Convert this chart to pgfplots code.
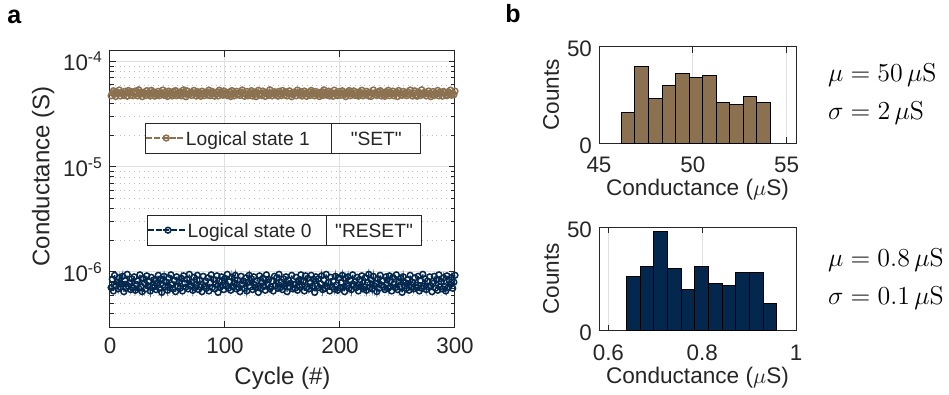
\documentclass[border=0pt]{standalone}
\usepackage[no-math]{fontspec}
\setmainfont{Liberation Sans}[Ligatures=TeXOff]
\usepackage{graphicx}
\usepackage{pgfplots}
\usepackage{pgfplotstable}
\pgfplotsset{compat=1.18}
\definecolor{setc}{RGB}{140,113,80}
\definecolor{resetc}{RGB}{3,39,77}
\definecolor{axc}{RGB}{38,38,38}

\pgfplotstableread[row sep=\\]{
g\\
47.3\\ 50.1\\ 52.8\\ 48.9\\ 46.5\\ 51.4\\ 49.6\\ 53.7\\ 47.1\\ 50.8\\ 49.3\\ 47.6\\ 52.2\\ 50.5\\ 46.8\\ 53.1\\ 49.9\\ 48.1\\ 51.7\\ 47.4\\
50.2\\ 52.5\\ 49.4\\ 47.2\\ 53.9\\ 48.6\\ 50.9\\ 46.4\\ 51.1\\ 49.7\\ 47.5\\ 52.9\\ 50.4\\ 48.8\\ 47.0\\ 53.3\\ 49.5\\ 51.6\\ 46.9\\ 50.0\\
48.4\\ 52.1\\ 47.3\\ 50.7\\ 49.2\\ 53.6\\ 47.8\\ 51.3\\ 49.8\\ 46.6\\ 52.4\\ 50.3\\ 48.5\\ 47.1\\ 51.9\\ 49.0\\ 53.0\\ 47.4\\ 50.6\\ 48.2\\
51.5\\ 47.2\\ 49.6\\ 53.8\\ 50.1\\ 46.3\\ 52.7\\ 48.7\\ 49.4\\ 51.0\\ 47.6\\ 50.5\\ 53.2\\ 49.9\\ 47.0\\ 51.8\\ 48.3\\ 50.2\\ 46.7\\ 52.3\\
49.3\\ 47.5\\ 51.2\\ 50.8\\ 48.0\\ 53.5\\ 47.3\\ 49.7\\ 52.0\\ 50.4\\ 46.9\\ 48.9\\ 51.4\\ 47.1\\ 53.4\\ 49.5\\ 50.9\\ 47.8\\ 52.6\\ 49.1\\
50.6\\ 47.4\\ 48.6\\ 51.6\\ 46.5\\ 53.0\\ 49.9\\ 47.2\\ 50.3\\ 52.2\\ 48.4\\ 49.6\\ 47.6\\ 51.1\\ 53.7\\ 50.0\\ 46.8\\ 49.2\\ 51.9\\ 47.3\\
48.8\\ 50.7\\ 52.9\\ 47.0\\ 49.4\\ 51.3\\ 46.4\\ 50.1\\ 53.3\\ 48.2\\ 49.8\\ 47.5\\ 52.4\\ 50.5\\ 46.6\\ 51.0\\ 49.0\\ 47.7\\ 53.9\\ 50.2\\
47.2\\ 49.5\\ 51.7\\ 48.5\\ 50.8\\ 46.9\\ 52.1\\ 49.3\\ 47.4\\ 53.1\\ 50.4\\ 48.1\\ 51.5\\ 47.1\\ 49.7\\ 52.7\\ 50.0\\ 46.3\\ 48.7\\ 51.2\\
49.9\\ 47.3\\ 53.6\\ 50.6\\ 48.3\\ 51.8\\ 47.0\\ 49.1\\ 52.5\\ 50.3\\ 46.7\\ 48.9\\ 51.4\\ 47.6\\ 53.2\\ 49.6\\ 50.9\\ 47.2\\ 52.0\\ 48.6\\
50.1\\ 46.5\\ 49.4\\ 51.6\\ 47.5\\ 53.8\\ 50.7\\ 48.0\\ 49.8\\ 52.3\\ 47.1\\ 51.1\\ 49.2\\ 46.8\\ 53.5\\ 50.4\\ 48.4\\ 47.4\\ 51.9\\ 49.7\\
47.8\\ 52.8\\ 50.2\\ 48.8\\ 46.4\\ 51.3\\ 49.5\\ 53.0\\ 47.3\\ 50.8\\ 49.0\\ 52.6\\ 47.6\\ 50.5\\ 48.2\\ 46.9\\ 51.7\\ 49.3\\ 53.4\\ 47.2\\
50.0\\ 48.5\\ 52.2\\ 49.9\\ 47.0\\ 51.0\\ 46.6\\ 49.6\\ 53.7\\ 50.3\\ 48.7\\ 47.5\\ 51.5\\ 49.1\\ 52.9\\ 47.1\\ 50.6\\ 48.1\\ 46.7\\ 51.8\\
49.4\\ 53.3\\ 47.4\\ 50.9\\ 48.9\\ 52.4\\ 47.2\\ 49.8\\ 51.2\\ 46.5\\ 53.1\\ 50.1\\ 48.3\\ 47.7\\ 52.1\\ 49.2\\ 50.7\\ 47.3\\ 51.6\\ 48.6\\
53.6\\ 49.7\\ 47.0\\ 50.4\\ 52.7\\ 48.0\\ 46.8\\ 51.4\\ 49.3\\ 47.5\\ 53.9\\ 50.2\\ 48.8\\ 51.1\\ 47.1\\ 49.5\\ 52.5\\ 50.0\\ 46.4\\ 48.4\\
51.9\\ 47.6\\ 50.5\\ 49.0\\ 53.2\\ 47.2\\ 51.3\\ 49.9\\ 46.9\\ 52.0\\ 50.8\\ 48.2\\ 47.4\\ 51.7\\ 49.6\\ 53.5\\ 47.8\\ 50.3\\ 48.5\\ 52.3\\
}\setdata

\pgfplotstableread[row sep=\\]{
g\\
0.71\\ 0.85\\ 0.66\\ 0.93\\ 0.74\\ 0.80\\ 0.69\\ 0.88\\ 0.72\\ 0.77\\ 0.91\\ 0.65\\ 0.83\\ 0.70\\ 0.95\\ 0.73\\ 0.79\\ 0.68\\ 0.86\\ 0.71\\
0.90\\ 0.67\\ 0.76\\ 0.82\\ 0.70\\ 0.94\\ 0.72\\ 0.65\\ 0.87\\ 0.79\\ 0.69\\ 0.92\\ 0.74\\ 0.81\\ 0.66\\ 0.89\\ 0.71\\ 0.84\\ 0.73\\ 0.68\\
0.78\\ 0.93\\ 0.70\\ 0.86\\ 0.64\\ 0.75\\ 0.91\\ 0.72\\ 0.80\\ 0.67\\ 0.88\\ 0.71\\ 0.94\\ 0.76\\ 0.69\\ 0.83\\ 0.65\\ 0.90\\ 0.73\\ 0.81\\
0.70\\ 0.87\\ 0.66\\ 0.92\\ 0.78\\ 0.72\\ 0.85\\ 0.69\\ 0.95\\ 0.74\\ 0.80\\ 0.67\\ 0.89\\ 0.71\\ 0.76\\ 0.93\\ 0.68\\ 0.84\\ 0.72\\ 0.65\\
0.91\\ 0.73\\ 0.82\\ 0.70\\ 0.88\\ 0.66\\ 0.79\\ 0.94\\ 0.71\\ 0.85\\ 0.69\\ 0.77\\ 0.92\\ 0.64\\ 0.83\\ 0.72\\ 0.90\\ 0.75\\ 0.68\\ 0.87\\
0.74\\ 0.95\\ 0.70\\ 0.81\\ 0.67\\ 0.89\\ 0.72\\ 0.78\\ 0.93\\ 0.69\\ 0.84\\ 0.71\\ 0.65\\ 0.91\\ 0.76\\ 0.82\\ 0.70\\ 0.88\\ 0.66\\ 0.80\\
0.93\\ 0.72\\ 0.86\\ 0.68\\ 0.90\\ 0.75\\ 0.71\\ 0.83\\ 0.64\\ 0.92\\ 0.70\\ 0.79\\ 0.87\\ 0.73\\ 0.67\\ 0.94\\ 0.77\\ 0.85\\ 0.69\\ 0.72\\
0.82\\ 0.66\\ 0.91\\ 0.74\\ 0.88\\ 0.70\\ 0.95\\ 0.71\\ 0.80\\ 0.68\\ 0.86\\ 0.73\\ 0.90\\ 0.65\\ 0.84\\ 0.72\\ 0.78\\ 0.93\\ 0.69\\ 0.76\\
0.70\\ 0.89\\ 0.67\\ 0.83\\ 0.72\\ 0.94\\ 0.75\\ 0.81\\ 0.66\\ 0.92\\ 0.71\\ 0.87\\ 0.69\\ 0.79\\ 0.93\\ 0.73\\ 0.85\\ 0.64\\ 0.90\\ 0.74\\
0.86\\ 0.71\\ 0.77\\ 0.92\\ 0.68\\ 0.84\\ 0.70\\ 0.95\\ 0.73\\ 0.80\\ 0.66\\ 0.89\\ 0.72\\ 0.82\\ 0.69\\ 0.91\\ 0.75\\ 0.67\\ 0.88\\ 0.71\\
0.79\\ 0.93\\ 0.72\\ 0.65\\ 0.87\\ 0.74\\ 0.90\\ 0.70\\ 0.83\\ 0.68\\ 0.94\\ 0.76\\ 0.81\\ 0.71\\ 0.89\\ 0.66\\ 0.85\\ 0.73\\ 0.92\\ 0.69\\
0.72\\ 0.88\\ 0.67\\ 0.80\\ 0.95\\ 0.71\\ 0.84\\ 0.69\\ 0.91\\ 0.74\\ 0.78\\ 0.65\\ 0.86\\ 0.70\\ 0.93\\ 0.75\\ 0.82\\ 0.72\\ 0.68\\ 0.90\\
0.84\\ 0.70\\ 0.92\\ 0.73\\ 0.66\\ 0.89\\ 0.77\\ 0.71\\ 0.94\\ 0.68\\ 0.81\\ 0.72\\ 0.87\\ 0.64\\ 0.90\\ 0.74\\ 0.79\\ 0.70\\ 0.85\\ 0.67\\
0.93\\ 0.72\\ 0.80\\ 0.69\\ 0.88\\ 0.75\\ 0.71\\ 0.91\\ 0.66\\ 0.83\\ 0.70\\ 0.95\\ 0.73\\ 0.86\\ 0.68\\ 0.82\\ 0.72\\ 0.90\\ 0.74\\ 0.65\\
0.78\\ 0.91\\ 0.70\\ 0.85\\ 0.67\\ 0.94\\ 0.72\\ 0.81\\ 0.69\\ 0.88\\ 0.73\\ 0.66\\ 0.92\\ 0.71\\ 0.84\\ 0.76\\ 0.89\\ 0.70\\ 0.80\\ 0.93\\
}\resetdata

\pgfplotsset{
  myax/.style={
    scale only axis,
    anchor=south west,
    axis line style={axc, line width=0.5pt},
    every tick/.style={axc, line width=0.5pt},
    tick label style={font=\fontsize{11.2}{13}\selectfont, text=axc},
    label style={font=\fontsize{12}{14}\selectfont, text=axc},
    /pgf/number format/assume math mode=true,
    major grid style={black!12, line width=0.5pt},
    minor grid style={black!25, dotted, line width=0.4pt},
    major tick length=3pt,
    minor tick length=1.8pt,
  },
}
\pgfplotsset{legend image code/.code={%
  \path (-4pt,0pt) -- (15.5pt,0pt);
  \draw[mark repeat=2,mark phase=2,#1] plot coordinates {(0pt,0pt) (6pt,0pt) (12pt,0pt)};}}

\newcommand{\mtxt}[1]{\scalebox{1.08}{\fontsize{12}{14}\selectfont$#1$}}

\begin{document}
\begin{tikzpicture}
\useasboundingbox (0,0) rectangle (474.5pt,197.5pt);

% ---------- panel a : RESET (full axis) ----------
\begin{axis}[myax,
  at={(55pt,34pt)}, width=172.5pt, height=138pt,
  xmin=0, xmax=300, ymode=log, ymin=3e-7, ymax=1.26e-4,
  clip=false,
  xtick={0,100,200,300},
  ytick={1e-6,1e-5,1e-4},
  yticklabels={10\textsuperscript{-6},10\textsuperscript{-5},10\textsuperscript{-4}},
  minor ytick={3e-7,4e-7,5e-7,6e-7,7e-7,8e-7,9e-7,2e-6,3e-6,4e-6,5e-6,6e-6,7e-6,8e-6,9e-6,2e-5,3e-5,4e-5,5e-5,6e-5,7e-5,8e-5,9e-5},
  xmajorgrids, ymajorgrids, yminorgrids,
  xlabel={Cycle (\#)}, ylabel={Conductance (S)},
  xlabel style={at={(axis description cs:0.5,-0.185)}, anchor=center},
  ylabel style={at={(axis description cs:-0.194,0.545)}, anchor=center},
  xticklabel style={yshift=-1.8pt},
  legend columns=2,
  legend style={at={(axis description cs:0.1064,0.4069)},
    anchor=north west, draw=axc, line width=0.5pt, fill=white,
    inner xsep=0pt, inner ysep=0pt, column sep=0pt,
    nodes={inner sep=0pt, text height=11pt, text depth=4pt,
           font=\fontsize{9.6}{11}\selectfont, text=axc},
    cells={anchor=west}},
]
\addplot[resetc, line width=0.75pt, dash dot, mark=o, mark size=1.45pt, mark options={solid}]
  table[x index=0, y index=0, x expr=\coordindex+1, y expr=\thisrow{g}*1e-6] {\resetdata};
\addlegendentry{\makebox[69.15pt][l]{Logical state 0}}
\addlegendimage{empty legend}
\addlegendentry{\hbox to 47.5pt{\vrule width 0.5pt height 11pt depth 4pt\hss"RESET"\hss}}
\end{axis}

% ---------- panel a : SET (overlay) ----------
\begin{axis}[myax, hide axis,
  at={(55pt,34pt)}, width=172.5pt, height=138pt,
  xmin=0, xmax=300, ymode=log, ymin=3e-7, ymax=1.26e-4,
  clip=false,
  legend columns=2,
  legend style={at={(axis description cs:0.1014,0.7409)},
    anchor=north west, draw=axc, line width=0.5pt, fill=white,
    inner xsep=0pt, inner ysep=0pt, column sep=0pt,
    nodes={inner sep=0pt, text height=11pt, text depth=4pt,
           font=\fontsize{9.6}{11}\selectfont, text=axc},
    cells={anchor=west}},
]
\addplot[setc, line width=0.75pt, dash dot, mark=o, mark size=1.45pt, mark options={solid}]
  table[x index=0, y index=0, x expr=\coordindex+1, y expr=\thisrow{g}*1e-6] {\setdata};
\addlegendentry{\makebox[72.65pt][l]{Logical state 1}}
\addlegendimage{empty legend}
\addlegendentry{\hbox to 44.5pt{\vrule width 0.5pt height 11pt depth 4pt\hss"SET"\hss}}
\end{axis}

% ---------- panel b : SET histogram ----------
\begin{axis}[myax,
  at={(299.5pt,125.85pt)}, width=98.5pt, height=48.3pt,
  xmin=45, xmax=55.5, ymin=0, ymax=50,
  xtick={45,50,55}, ytick={0,50},
  xmajorgrids,
  xlabel={Conductance ($\mu$S)}, ylabel={Counts},
  label style={font=\fontsize{11.3}{13}\selectfont},
  xlabel style={at={(axis description cs:0.5,-0.483)}, anchor=center},
  ylabel style={at={(axis description cs:-0.2437,0.5)}, anchor=center},
  xticklabel style={yshift=-3.5pt}, yticklabel style={yshift=-1pt},
]
\addplot[ybar interval, fill=setc, draw=black, line width=0.5pt] coordinates {
(46.19,16) (46.91,40) (47.63,23) (48.36,30) (49.08,36) (49.80,34) (50.52,35) (51.24,21) (51.96,20) (52.69,24) (53.41,21) (54.13,21)};
\end{axis}

% ---------- panel b : RESET histogram ----------
\begin{axis}[myax,
  at={(299.5pt,32.15pt)}, width=98.5pt, height=51.7pt,
  xmin=0.58, xmax=1, ymin=0, ymax=50,
  xtick={0.6,0.8,1}, xticklabels={0.6,0.8,1}, ytick={0,50},
  xmajorgrids,
  xlabel={Conductance ($\mu$S)}, ylabel={Counts},
  label style={font=\fontsize{11.3}{13}\selectfont},
  xlabel style={at={(axis description cs:0.5,-0.453)}, anchor=center},
  ylabel style={at={(axis description cs:-0.2437,0.5)}, anchor=center},
  xticklabel style={yshift=-3.5pt}, yticklabel style={yshift=-1pt},
]
\addplot[ybar interval, fill=resetc, draw=black, line width=0.5pt] coordinates {
(0.639,26) (0.668,31) (0.697,48) (0.726,30) (0.755,20) (0.784,31) (0.814,23) (0.843,22) (0.872,28) (0.901,28) (0.930,13) (0.959,13)};
\end{axis}

% ---------- annotations ----------
\node[anchor=base west, inner sep=0pt, font=\bfseries\fontsize{12.5}{14}\selectfont] at (3.5pt,185.5pt) {a};
\node[anchor=base west, inner sep=0pt, font=\bfseries\fontsize{12.5}{14}\selectfont] at (252.5pt,186pt) {b};
\node[anchor=base west, inner sep=0pt] at (413.85pt,156.65pt) {\mtxt{\mu = 50\,\mu\mathrm{S}}};
\node[anchor=base west, inner sep=0pt] at (413.85pt,137.5pt) {\mtxt{\sigma = 2\,\mu\mathrm{S}}};
\node[anchor=base west, inner sep=0pt] at (413.85pt,64.15pt) {\mtxt{\mu = 0.8\,\mu\mathrm{S}}};
\node[anchor=base west, inner sep=0pt] at (413.85pt,45pt) {\mtxt{\sigma = 0.1\,\mu\mathrm{S}}};
\end{tikzpicture}
\end{document}
